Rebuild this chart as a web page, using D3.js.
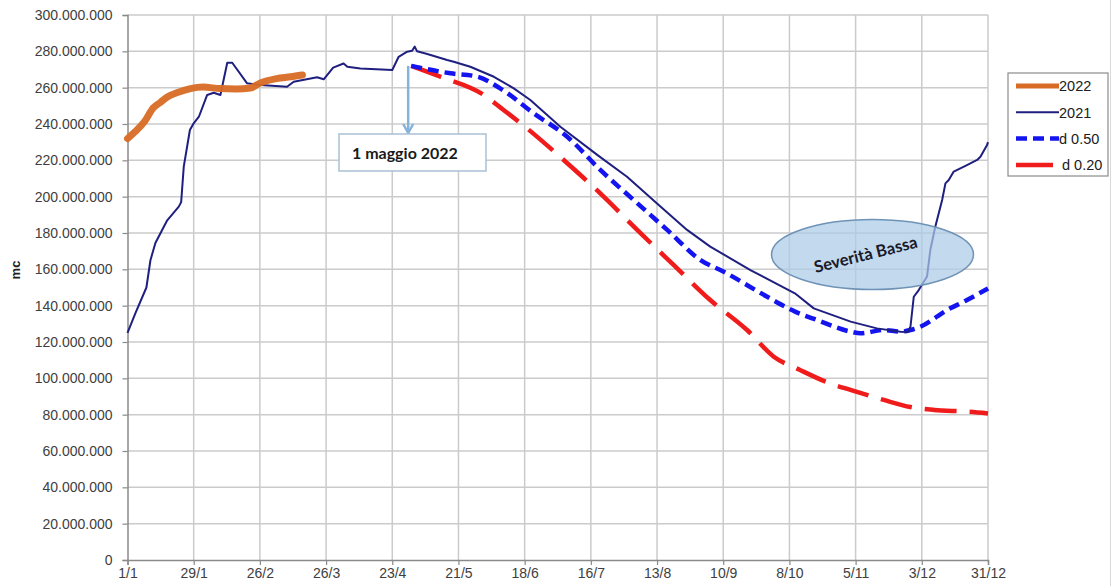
<!DOCTYPE html>
<html>
<head>
<meta charset="utf-8">
<script src="https://cdn.jsdelivr.net/npm/d3@7/dist/d3.min.js"></script>
<style>
  html, body { margin: 0; padding: 0; background: #fff; }
  svg { display: block; }
</style>
</head>
<body>
<svg id="chart" width="1113" height="586"></svg>
<script>
// Axis categories: day of year (0 = 1/1) and the labels shown under the x axis
const xTickDays   = [0, 28, 56, 84, 112, 140, 168, 196, 224, 252, 280, 308, 336, 364];
const xTickLabels = ["1/1", "29/1", "26/2", "26/3", "23/4", "21/5", "18/6", "16/7", "13/8", "10/9", "8/10", "5/11", "3/12", "31/12"];
const yTickValues = [0, 20, 40, 60, 80, 100, 120, 140, 160, 180, 200, 220, 240, 260, 280, 300]; // millions of mc

// Stored volume, 2022 (millions of mc)
const days2022 = [0, 3.4, 7, 11, 14, 17, 21.5, 26.6, 32, 39, 46, 52, 56, 63, 69, 74];
const vol2022  = [232, 236, 241, 249, 252, 255, 257.5, 259.5, 260.3, 259.5, 259.3, 259.8, 262.5, 265, 266, 267];

// Stored volume, 2021 (millions of mc)
const days2021 = [0, 3.4, 8, 9.7, 11.8, 16.8, 21.7, 22.7, 23.8, 26.4, 28, 30.2, 33.7, 36.5, 39.3, 42.2, 44.3, 50.6,
  56.3, 67.5, 70.3, 80.2, 83, 87, 91.4, 93, 98.5, 112, 114.7, 118.3, 120.4, 121.5, 122.5, 126.8, 135.2, 138, 145,
  155, 163.4, 170.4, 183.1, 198.7, 211.3, 224, 236.7, 246.5, 263.5, 282.3, 290.3, 305.9, 317, 327, 330,
  331.2, 332.6, 334.7, 338.2, 339.6, 341.7, 344.6, 346, 347.4, 349.5, 355.1, 359.4, 360.8, 363.6, 364];
const vol2021  = [125, 136, 150, 165, 174.5, 187, 194.5, 197, 216.5, 236.7, 240.4, 244, 256, 257.2, 256, 273.7, 273.7, 262.4,
  261.5, 260.5, 263.3, 265.7, 264.6, 271, 273.3, 271.5, 270.6, 269.7, 277, 279.8, 280.3, 282.6, 280, 278.5, 275.2, 274.3, 271.5,
  266, 259.6, 253.2, 238.5, 223, 211, 196.3, 181.7, 172.5, 159.6, 146.8, 138.5, 131.2, 127.5, 125.7, 125.5,
  128.4, 144.9, 148.6, 156, 170.6, 183.5, 198.2, 207.3, 209.2, 213.8, 217.4, 220.2, 222, 228.4, 230];

// Projection from 1 May 2022, scenario d 0.50 (millions of mc)
const daysD50 = [120, 136.6, 147.9, 157.8, 171.8, 186, 200, 214.1, 228.3, 242.4, 252.2, 270.6, 282.4, 291.7, 305.9, 310.1, 319.9, 327, 331.2, 335.4, 346.7, 355.1, 364];
const volD50  = [272, 267.9, 266.1, 259.5, 245.9, 233, 214.7, 198.2, 181.7, 165.1, 158.7, 144.9, 136.7, 132.1, 125.7, 124.8, 126.6, 125.7, 126.6, 128.4, 137.6, 143.1, 149.5];

// Projection from 1 May 2022, scenario d 0.20 (millions of mc)
const daysD20 = [120, 132.4, 150.7, 157.8, 169, 184.5, 200, 215.6, 231, 246.5, 262.1, 273.4, 284.5, 297.2, 305.9, 319.9, 331.2, 341.2, 355.1, 364];
const volD20  = [272, 266, 256, 249, 237.6, 220.2, 201.8, 181.7, 162.4, 143.1, 126.6, 111.9, 104.6, 97.2, 93.6, 88.1, 84.2, 82.6, 81.7, 80.7];

const seriesNames = ["2022", "2021", "d 0.50", "d 0.20"];

const svg = d3.select("#chart");
const W = 1113, H = 586;
const plot = { left: 127.5, right: 988, top: 15, bottom: 560 };

const x = d3.scaleLinear().domain([0, 364]).range([plot.left, plot.right]);
const y = d3.scaleLinear().domain([0, 300]).range([plot.bottom, plot.top]);

const axisFont = "'Liberation Sans', Arial, sans-serif";
const calloutFont = "Lato, 'Open Sans', sans-serif";

// outer frame line on the right
svg.append("line")
  .attr("x1", 1110.5).attr("x2", 1110.5).attr("y1", 0).attr("y2", H)
  .attr("stroke", "#d9d9d9").attr("stroke-width", 1);

// gridlines
const grid = svg.append("g");
grid.selectAll("line.h").data(yTickValues.filter(v => v > 0)).join("line")
  .attr("x1", plot.left).attr("x2", plot.right)
  .attr("y1", d => y(d)).attr("y2", d => y(d))
  .attr("stroke", "#cbcbcb").attr("stroke-width", 1.5);
grid.selectAll("line.v").data(xTickDays.filter(d => d > 0)).join("line")
  .attr("x1", d => x(d)).attr("x2", d => x(d))
  .attr("y1", plot.top).attr("y2", plot.bottom)
  .attr("stroke", "#cbcbcb").attr("stroke-width", 1.5);

// y axis
const fmt = v => d3.format(",")(v * 1e6).replace(/,/g, ".");
const yAxis = svg.append("g")
  .attr("transform", `translate(${plot.left},0)`)
  .call(d3.axisLeft(y).tickValues(yTickValues).tickFormat(fmt).tickSize(5).tickPadding(10));
yAxis.select(".domain").attr("stroke", "#8a8a8a").attr("stroke-width", 1.5);
yAxis.selectAll(".tick line").attr("stroke", "#8a8a8a").attr("stroke-width", 1.2);
yAxis.selectAll(".tick text").attr("font-family", axisFont).attr("font-size", 14).attr("fill", "#404040");

// x axis
const xAxis = svg.append("g")
  .attr("transform", `translate(0,${plot.bottom})`)
  .call(d3.axisBottom(x).tickValues(xTickDays).tickFormat((d, i) => xTickLabels[i]).tickSize(5).tickPadding(3));
xAxis.select(".domain").attr("stroke", "#8a8a8a").attr("stroke-width", 1.5);
xAxis.selectAll(".tick line").attr("stroke", "#8a8a8a").attr("stroke-width", 1.2);
xAxis.selectAll(".tick text").attr("font-family", axisFont).attr("font-size", 14).attr("fill", "#404040");

// y axis title
svg.append("text")
  .attr("transform", "translate(20,270) rotate(-90)")
  .attr("text-anchor", "middle")
  .attr("font-family", axisFont).attr("font-size", 13).attr("font-weight", "bold")
  .attr("fill", "#202020")
  .text("mc");

// series
const zip = (ds, vs) => ds.map((d, i) => [d, vs[i]]);
const lineLinear = d3.line().x(d => x(d[0])).y(d => y(d[1]));
const lineSmooth = d3.line().x(d => x(d[0])).y(d => y(d[1])).curve(d3.curveMonotoneX);

const styles = {
  "2022":   { color: "#d86c24", width: 7,   dash: null },
  "2021":   { color: "#1f1f80", width: 2,   dash: null },
  "d 0.50": { color: "#1414f0", width: 4.5, dash: "11,6" },
  "d 0.20": { color: "#f01c1c", width: 4.5, dash: "32,13" }
};

const lines = svg.append("g").attr("fill", "none").attr("stroke-linejoin", "round");
lines.append("path").datum(zip(daysD20, volD20)).attr("d", lineSmooth)
  .attr("stroke", styles["d 0.20"].color).attr("stroke-width", styles["d 0.20"].width)
  .attr("stroke-dasharray", styles["d 0.20"].dash);
lines.append("path").datum(zip(daysD50, volD50)).attr("d", lineSmooth)
  .attr("stroke", styles["d 0.50"].color).attr("stroke-width", styles["d 0.50"].width)
  .attr("stroke-dasharray", styles["d 0.50"].dash);
lines.append("path").datum(zip(days2021, vol2021)).attr("d", lineLinear)
  .attr("stroke", styles["2021"].color).attr("stroke-width", styles["2021"].width);
lines.append("path").datum(zip(days2022, vol2022)).attr("d", lineSmooth)
  .attr("stroke", styles["2022"].color).attr("stroke-width", styles["2022"].width)
  .attr("stroke-linecap", "round").attr("opacity", 0.95);

// callout: 1 May 2022
const startDay = daysD50[0], startVol = volD50[0];
const arrowX = x(startDay) - 3;
svg.append("line")
  .attr("x1", arrowX).attr("x2", arrowX)
  .attr("y1", y(startVol)).attr("y2", 133)
  .attr("stroke", "#86b3da").attr("stroke-width", 2.5);
svg.append("path")
  .attr("d", `M${arrowX - 5},124 L${arrowX},133 L${arrowX + 5},124`)
  .attr("fill", "none").attr("stroke", "#86b3da").attr("stroke-width", 2.5)
  .attr("stroke-linejoin", "round");
svg.append("rect")
  .attr("x", 339).attr("y", 134).attr("width", 147).attr("height", 37)
  .attr("fill", "#fff").attr("stroke", "#a9c0d6").attr("stroke-width", 1.5);
svg.append("text")
  .attr("x", 352).attr("y", 159)
  .attr("font-family", calloutFont).attr("font-size", 16).attr("font-weight", "bold")
  .attr("fill", "#1a1a1a")
  .text("1 maggio 2022");

// severity ellipse
svg.append("ellipse")
  .attr("cx", 872.5).attr("cy", 254.5).attr("rx", 101).attr("ry", 35)
  .attr("fill", "rgba(170,202,232,0.72)").attr("stroke", "#6f93b6").attr("stroke-width", 1.5);
svg.append("text")
  .attr("transform", "translate(866,256) rotate(-14)")
  .attr("text-anchor", "middle").attr("dominant-baseline", "middle")
  .attr("font-family", calloutFont).attr("font-size", 16.5).attr("font-weight", "bold")
  .attr("fill", "#1a1a2a")
  .text("Severità Bassa");

// legend
const legend = svg.append("g");
legend.append("rect")
  .attr("x", 1008).attr("y", 73).attr("width", 100).attr("height", 103)
  .attr("fill", "#fff").attr("stroke", "#8c8c8c").attr("stroke-width", 1.2);
const legRows = legend.selectAll("g.row").data(seriesNames).join("g")
  .attr("transform", (d, i) => `translate(0,${86 + i * 26.3})`);
legRows.append("line")
  .attr("x1", 1016).attr("x2", 1059).attr("y1", 0).attr("y2", 0)
  .attr("stroke", d => styles[d].color)
  .attr("stroke-width", d => d === "2022" ? 5 : styles[d].width)
  .attr("stroke-dasharray", d => d === "d 0.20" ? "37,20" : styles[d].dash);
legRows.append("text")
  .attr("x", d => d === "d 0.20" ? 1062 : 1059).attr("y", 0).attr("dy", "0.36em")
  .attr("font-family", axisFont).attr("font-size", 14.5).attr("fill", "#202020")
  .text(d => d);
</script>
</body>
</html>
